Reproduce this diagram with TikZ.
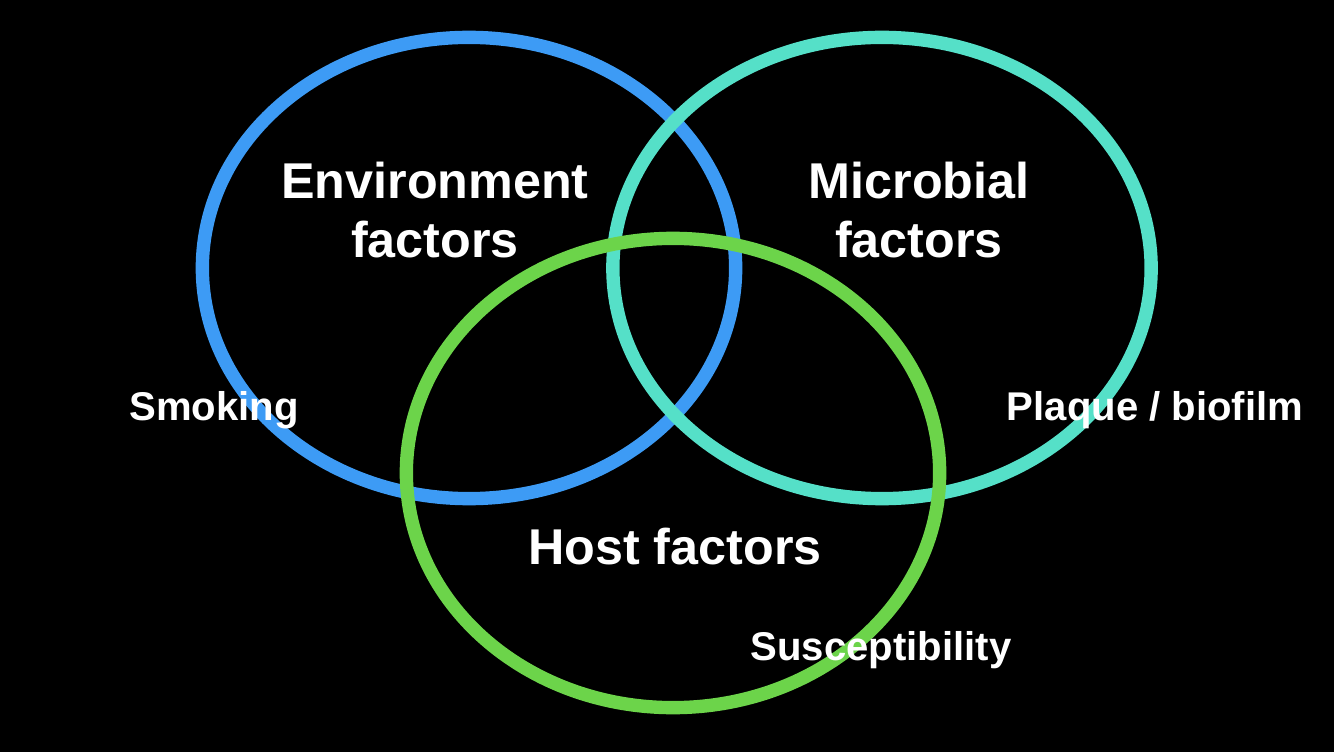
\documentclass[tikz,border=0pt]{standalone}
\usepackage{fontspec}
\setmainfont{Liberation Sans}
\usetikzlibrary{positioning,shapes.geometric}
\definecolor{vennblue}{HTML}{3D9BF5}
\definecolor{vennteal}{HTML}{55E0C8}
\definecolor{venngreen}{HTML}{6CD44A}
\tikzset{
  ring/.style={ellipse, draw, line width=3.8pt, inner sep=0pt},
  bigtag/.style={text=white, align=center, font=\bfseries\fontsize{14.3pt}{17pt}\selectfont},
  smalltag/.style={text=white, font=\bfseries\fontsize{11.4pt}{13pt}\selectfont},
}

\begin{document}
\begin{tikzpicture}[x=0.01cm, y=-0.01cm]
\fill[black] (0,0) rectangle (1334,752);
\node[ring, draw=vennblue, minimum width=5.33cm, minimum height=4.61cm] (env) at (469,268) {};
\node[ring, draw=vennteal, minimum width=5.38cm, minimum height=4.61cm] (mic) at (882,268) {};
\node[ring, draw=venngreen, minimum width=5.33cm, minimum height=4.69cm] (host) at (673,473) {};
\node[bigtag] (envt) at (435,210) {Environment\\factors};
\node[bigtag] (mict) at (919,210) {Microbial\\factors};
\node[bigtag] (hostt) at (675,547) {Host factors};
\node[smalltag] (smoke) at (214,410) {Smoking};
\node[smalltag] (plaque) at (1155,410) {Plaque / biofilm};
\node[smalltag] (susc) at (881,650) {Susceptibility};
\end{tikzpicture}
\end{document}
